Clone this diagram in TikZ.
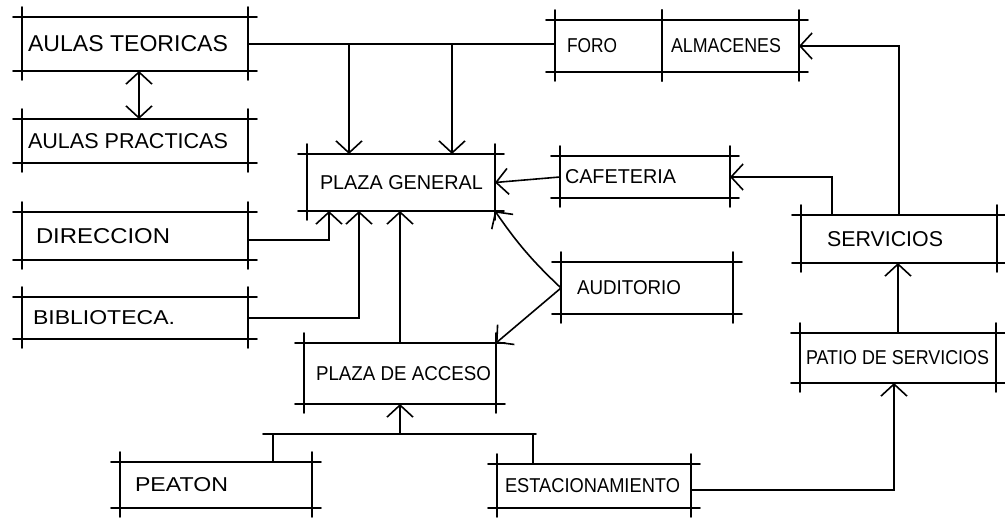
\documentclass[tikz,border=0pt]{standalone}
\usepackage{fontspec}
\setmainfont{Liberation Sans}
\usetikzlibrary{arrows.meta,calc}
\newcommand\lbl[4]{\hspace*{#1pt}\resizebox{#2pt}{#3pt}{#4}}
\tikzset{
  skbox/.style={inner sep=0pt, outer sep=0pt},
  skline/.style={line width=1.7pt, line cap=round},
  link/.style={line width=1.6pt, line cap=round},
  barb/.tip={Straight Barb[length=12pt,width=26pt,line width=1.6pt]},
  arr/.style={link, -barb},
  arrboth/.style={link, barb-barb}
}
\begin{document}
\begin{tikzpicture}[x=1pt,y=-1pt]
\useasboundingbox (0,0) rectangle (1005,521);
\fill[white] (0,0) rectangle (1005,521);

% boxes
\node[skbox, minimum width=226pt, minimum height=54pt] (at) at (135,44) {\makebox[226pt][l]{\lbl{6}{200}{16}{AULAS TEORICAS}}};
\node[skbox, minimum width=226pt, minimum height=44pt] (ap) at (135,141) {\makebox[226pt][l]{\lbl{6}{200}{15}{AULAS PRACTICAS}}};
\node[skbox, minimum width=226pt, minimum height=48pt] (dir) at (135,236) {\makebox[226pt][l]{\lbl{14}{134}{15}{DIRECCION}}};
\node[skbox, minimum width=226pt, minimum height=42pt] (bib) at (135,318) {\makebox[226pt][l]{\lbl{11}{142}{14}{BIBLIOTECA.}}};
\node[skbox, minimum width=188pt, minimum height=57pt] (pg) at (401,182.5) {\makebox[188pt][l]{\lbl{13}{163}{14}{PLAZA GENERAL}}};
\node[skbox, minimum width=192pt, minimum height=61pt] (pa) at (400,373.5) {\makebox[192pt][l]{\lbl{12}{175}{14}{PLAZA DE ACCESO}}};
\node[skbox, minimum width=192pt, minimum height=46pt] (pe) at (216,485) {\makebox[192pt][l]{\lbl{15}{93}{14}{PEATON}}};
\node[skbox, minimum width=194pt, minimum height=44pt] (es) at (594,486) {\makebox[194pt][l]{\lbl{8}{175}{14}{ESTACIONAMIENTO}}};
\node[skbox, minimum width=107pt, minimum height=52pt] (foro) at (608.5,46) {\makebox[107pt][l]{\lbl{12}{50}{14}{FORO}}};
\node[skbox, minimum width=137pt, minimum height=52pt] (alm) at (730.5,46) {\makebox[137pt][l]{\lbl{9}{110}{14}{ALMACENES}}};
\node[skbox, minimum width=170pt, minimum height=42pt] (caf) at (645,177) {\makebox[170pt][l]{\lbl{5}{111}{14}{CAFETERIA}}};
\node[skbox, minimum width=196pt, minimum height=48pt] (serv) at (899,239) {\makebox[196pt][l]{\lbl{26}{116}{15}{SERVICIOS}}};
\node[skbox, minimum width=172pt, minimum height=52pt] (aud) at (647,288) {\makebox[172pt][l]{\lbl{16}{104}{14}{AUDITORIO}}};
\node[skbox, minimum width=196pt, minimum height=50pt] (pat) at (898,358) {\makebox[196pt][l]{\lbl{6}{183}{14}{PATIO DE SERVICIOS}}};

% sketch-style frames: crossing lines that run past the corners
\foreach \n in {at,ap,dir,bib,pg,pa,pe,es,foro,alm,caf,serv,aud,pat}{
  \draw[skline] ([xshift=-9pt]\n.north west) -- ([xshift=9pt]\n.north east);
  \draw[skline] ([xshift=-9pt]\n.south west) -- ([xshift=9pt]\n.south east);
  \draw[skline] ([yshift=10pt]\n.north west) -- ([yshift=-9pt]\n.south west);
  \draw[skline] ([yshift=10pt]\n.north east) -- ([yshift=-9pt]\n.south east);
}

% connectors
\coordinate (d1) at ([xshift=-52pt]pg.north);
\coordinate (d2) at ([xshift=51pt]pg.north);
\draw[link] (at.east) -- (at.east -| foro.west);
\draw[arr] (d1 |- at.east) -- (d1);
\draw[arr] (d2 |- at.east) -- (d2);

\coordinate (aa) at ([xshift=4pt]at.south);
\draw[arrboth] (aa) -- (aa |- ap.north);

\coordinate (u1) at ([xshift=-72pt]pg.south);
\coordinate (u2) at ([xshift=-42pt]pg.south);
\draw[arr] ([yshift=-4pt]dir.east) -| (u1);
\draw[arr] (bib.east) -| (u2);
\draw[arr] (pa.north) -- (pa.north |- pg.south);

\draw[arr] (aud.west) to[bend left=6] (pg.south east);
\draw[arr] (aud.west) -- (pa.north east);

\draw[arr] (caf.west) -- (pg.east);
\coordinate (s1) at ([xshift=-67pt]serv.north);
\draw[arr] (s1) |- (caf.east);
\draw[arr] (serv.north) |- (alm.east);

\draw[arr] (pat.north) -- (pat.north |- serv.south);
\coordinate (p1) at ([xshift=-4pt]pat.south);
\draw[arr] ([yshift=-4pt]es.east) -| (p1);

\coordinate (jl) at (263,434);
\coordinate (jr) at (536,434);
\draw[link] (jl) -- (jr);
\coordinate (pv) at ([xshift=57pt]pe.north);
\coordinate (ev) at ([xshift=-61pt]es.north);
\draw[link] (pv) -- (pv |- jl);
\draw[link] (ev) -- (ev |- jl);
\draw[arr] (pa.south |- jl) -- (pa.south);
\end{tikzpicture}
\end{document}
